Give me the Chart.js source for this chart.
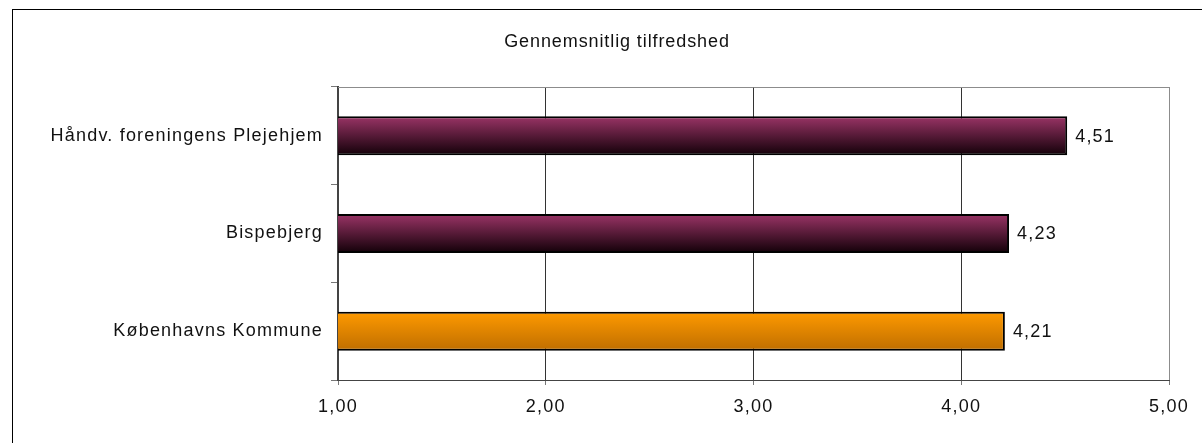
<!DOCTYPE html>
<html>
<head>
<meta charset="utf-8">
<script src="https://cdn.jsdelivr.net/npm/chart.js@4"></script>
<style>
  html, body { margin: 0; padding: 0; background: #fff; }
  #wrap { position: relative; width: 1202px; height: 443px; overflow: hidden; }
  #frame { position: absolute; left: 12px; top: 9px; width: 1300px; height: 500px;
           border-left: 1px solid #000; border-top: 1px solid #000; }
  canvas { position: absolute; left: 0; top: 0; }
</style>
</head>
<body>
<div id="wrap">
  <div id="frame"></div>
  <canvas id="chart" width="1202" height="443"></canvas>
</div>
<script>
// data
const categories = ['Håndv. foreningens Plejehjem', 'Bispebjerg', 'Københavns Kommune'];
const values = [4.51, 4.23, 4.21];
const barColors = [['#9a3466', '#120008'], ['#9a3466', '#120008'], ['#ff9a00', '#bf6e00']];
const xTicks = [1, 2, 3, 4, 5];
const title = 'Gennemsnitlig tilfredshed';

const fmt = (v) => v.toFixed(2).replace('.', ',');
const FONT = '"Liberation Sans", Arial, sans-serif';

Chart.defaults.font.family = FONT;
Chart.defaults.font.size = 18;
Chart.defaults.color = '#111';

// letter spacing like the original render
const spacing = {
  id: 'spacing',
  beforeUpdate(chart) { chart.ctx.letterSpacing = '1.2px'; },
  beforeDraw(chart) { chart.ctx.letterSpacing = '1.2px'; }
};

// title and top border of the plot area
const plotTop = {
  id: 'plotTop',
  beforeDatasetsDraw(chart) {
    const { ctx, chartArea } = chart;
    ctx.save();
    ctx.strokeStyle = '#8c8c8c';
    ctx.lineWidth = 1;
    ctx.beginPath();
    ctx.moveTo(chartArea.left, chartArea.top + 0.5);
    ctx.lineTo(chartArea.right, chartArea.top + 0.5);
    ctx.stroke();
    ctx.font = '18px ' + FONT;
    ctx.letterSpacing = '0.9px';
    ctx.fillStyle = '#111';
    ctx.textAlign = 'center';
    ctx.textBaseline = 'middle';
    ctx.fillText(title, 617, 42);
    ctx.restore();
  }
};

// value labels next to the bars
const valueLabels = {
  id: 'valueLabels',
  afterDatasetsDraw(chart) {
    const { ctx } = chart;
    const meta = chart.getDatasetMeta(0);
    ctx.save();
    ctx.font = '18px ' + FONT;
    ctx.fillStyle = '#111';
    ctx.textAlign = 'left';
    ctx.textBaseline = 'middle';
    meta.data.forEach((bar, i) => {
      ctx.fillText(fmt(values[i]), bar.x + 8, bar.y + 1);
    });
    ctx.restore();
  }
};

function barGradient(context) {
  const chart = context.chart;
  const area = chart.chartArea;
  const c = barColors[context.dataIndex];
  if (!area) return c[0];
  const y = chart.scales.y.getPixelForValue(context.dataIndex);
  const h = (area.bottom - area.top) / categories.length * 0.4;
  const g = chart.ctx.createLinearGradient(0, y - h / 2, 0, y + h / 2);
  g.addColorStop(0, c[0]);
  g.addColorStop(1, c[1]);
  return g;
}

new Chart(document.getElementById('chart'), {
  type: 'bar',
  data: {
    labels: categories,
    datasets: [{
      data: values,
      backgroundColor: barGradient,
      borderColor: '#000',
      borderWidth: 2,
      borderSkipped: false,
      categoryPercentage: 1,
      barPercentage: 0.4
    }]
  },
  options: {
    indexAxis: 'y',
    responsive: false,
    animation: false,
    layout: { padding: { left: 0, right: 33, top: 87, bottom: 0 } },
    plugins: {
      legend: { display: false },
      tooltip: { enabled: false },
      title: { display: false }
    },
    scales: {
      x: {
        min: 1,
        max: 5,
        afterBuildTicks(scale) { scale.ticks = xTicks.map((v) => ({ value: v })); },
        afterFit(scale) { scale.height = 63; },
        ticks: {
          padding: 11,
          color: '#111',
          maxRotation: 0,
          callback: (v) => fmt(v)
        },
        grid: {
          color: (ctx) => (ctx.tick && ctx.tick.value === 5 ? '#8c8c8c' : '#333'),
          tickLength: 5,
          tickColor: '#777'
        },
        border: { color: '#444', width: 1 }
      },
      y: {
        afterFit(scale) { scale.width = 338; },
        ticks: { padding: 8, color: '#111' },
        grid: {
          offset: true,
          drawOnChartArea: false,
          tickLength: 7,
          tickColor: '#777'
        },
        border: { color: '#444', width: 2 }
      }
    }
  },
  plugins: [spacing, plotTop, valueLabels]
});
</script>
</body>
</html>
